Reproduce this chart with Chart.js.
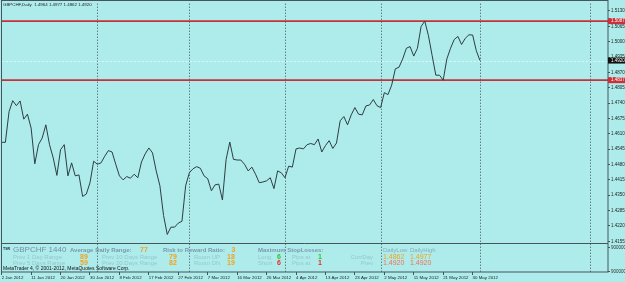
<!DOCTYPE html>
<html>
<head>
<meta charset="utf-8">
<script src="https://cdn.jsdelivr.net/npm/chart.js@4"></script>
<style>
  html, body { margin: 0; padding: 0; background: #adeceb; }
  canvas { display: block; }
</style>
</head>
<body>
<canvas id="chart" width="625" height="282"></canvas>
<script>
const symbol = 'GBPCHF';
const lastBar = [1.4964, 1.4977, 1.4862, 1.4920]; // open, high, low, close

// daily closes, 2 Jan 2012 .. 1 Jun 2012 (broker has Sunday bars)
const closes = [
  1.4574, 1.4574, 1.4704, 1.4750, 1.4729, 1.4749, 1.4672, 1.4693, 1.4634, 1.4483,
  1.4564, 1.4592, 1.4648, 1.4564, 1.4508, 1.4434, 1.4543, 1.4564, 1.4432, 1.4487,
  1.4432, 1.4436, 1.4345, 1.4355, 1.4403, 1.4494, 1.4481, 1.4487, 1.4515, 1.4539,
  1.4533, 1.4481, 1.4432, 1.4415, 1.4429, 1.4422, 1.4439, 1.4424, 1.4491, 1.4525,
  1.4550, 1.4529, 1.4453, 1.4390, 1.4264, 1.4184, 1.4215, 1.4215, 1.4232, 1.4240,
  1.4390, 1.4445, 1.4462, 1.4471, 1.4464, 1.4432, 1.4420, 1.4369, 1.4394, 1.4397,
  1.4330, 1.4502, 1.4575, 1.4502, 1.4499, 1.4499, 1.4481, 1.4453, 1.4469, 1.4439,
  1.4403, 1.4406, 1.4411, 1.4424, 1.4378, 1.4453, 1.4445, 1.4424, 1.4473, 1.4469,
  1.4546, 1.4550, 1.4546, 1.4564, 1.4569, 1.4564, 1.4588, 1.4533, 1.4560, 1.4581,
  1.4548, 1.4571, 1.4665, 1.4683, 1.4648, 1.4690, 1.4721, 1.4693, 1.4690, 1.4728,
  1.4732, 1.4755, 1.4729, 1.4721, 1.4784, 1.4776, 1.4816, 1.4885, 1.4892, 1.4927,
  1.4972, 1.4979, 1.4939, 1.4972, 1.5064, 1.5087, 1.5025, 1.4941, 1.4858, 1.4858,
  1.4837, 1.4927, 1.4972, 1.5009, 1.5022, 1.4988, 1.5014, 1.5029, 1.5028, 1.4962,
  1.4920
];

// one date label every 8 bars
const dateTicks = [
  '2 Jan 2012', '11 Jan 2012', '20 Jan 2012', '30 Jan 2012', '8 Feb 2012', '17 Feb 2012',
  '27 Feb 2012', '7 Mar 2012', '16 Mar 2012', '26 Mar 2012', '4 Apr 2012', '13 Apr 2012',
  '23 Apr 2012', '2 May 2012', '11 May 2012', '21 May 2012', '30 May 2012'
];
const priceTicks = [
  1.5130, 1.5065, 1.5000, 1.4935, 1.4870, 1.4805, 1.4740, 1.4675,
  1.4610, 1.4545, 1.4480, 1.4415, 1.4350, 1.4285, 1.4220, 1.4155
];
const monthStarts = [26, 51, 77, 103, 130, 160]; // bar index of 1 Feb .. 1 Jul
const levels = [1.5087, 1.4837];

// indicator panel values
const avgRange = 77;
const riskReward = 3;
const rangeLabels = ['Prev 1 Day Range', 'Prev 5 Days Range', 'Prev 10 Days Range', 'Prev 20 Days Range'];
const rangeValues = [89, 59, 79, 82];
const roomValues = [18, 19];
const stopLosses = [6, 6];
const pipsAt = [1, 1];
const dailyLow = [1.4862, 1.4920];
const dailyHigh = [1.4977, 1.4920];

const BG = '#adeceb';
const FRAME = '#46555c';
const FONT = '"Liberation Sans", Arial, sans-serif';
const SUB_TOP = 244;

function text(ctx, str, x, y, size, color, opts = {}) {
  ctx.font = `${opts.bold ? 'bold ' : ''}${size}px ${FONT}`;
  ctx.fillStyle = color;
  ctx.textAlign = opts.align || 'left';
  ctx.textBaseline = 'middle';
  ctx.fillText(str, x, y);
}

const mtPlugin = {
  id: 'mt',
  beforeDraw(chart) {
    const ctx = chart.ctx;
    ctx.save();
    ctx.fillStyle = BG;
    ctx.fillRect(0, 0, chart.width, chart.height);
    ctx.restore();
  },
  beforeDatasetsDraw(chart) {
    const { ctx, chartArea: a, scales: { x, y } } = chart;
    ctx.save();
    // month separators
    ctx.strokeStyle = '#3e4c52';
    ctx.lineWidth = 1;
    ctx.setLineDash([1, 2]);
    monthStarts.forEach(m => {
      const px = Math.round(x.getPixelForValue(m)) + 0.5;
      ctx.beginPath();
      ctx.moveTo(px, a.top);
      ctx.lineTo(px, a.bottom);
      ctx.stroke();
    });
    // bid line
    ctx.strokeStyle = 'rgba(235,250,250,0.8)';
    ctx.setLineDash([2, 2]);
    const by = Math.round(y.getPixelForValue(lastBar[3])) + 0.5;
    ctx.beginPath();
    ctx.moveTo(a.left, by);
    ctx.lineTo(a.right, by);
    ctx.stroke();
    // high / low levels
    ctx.setLineDash([]);
    ctx.strokeStyle = '#c8303a';
    ctx.lineWidth = 1.6;
    levels.forEach(v => {
      const py = y.getPixelForValue(v);
      ctx.beginPath();
      ctx.moveTo(a.left, py);
      ctx.lineTo(a.right, py);
      ctx.stroke();
    });
    ctx.restore();
  },
  afterDraw(chart) {
    const { ctx, chartArea: a, scales: { y } } = chart;
    ctx.save();

    // frame and indicator sub-window
    ctx.strokeStyle = FRAME;
    ctx.lineWidth = 1;
    ctx.strokeRect(1.5, 0.5, a.right - 1.5, a.bottom - 0.5);
    ctx.beginPath();
    ctx.moveTo(1.5, SUB_TOP - 0.5);
    ctx.lineTo(a.right, SUB_TOP - 0.5);
    ctx.stroke();

    // sub-window scale
    [SUB_TOP + 3, a.bottom - 1].forEach(py => {
      ctx.beginPath();
      ctx.moveTo(a.right, py + 0.5);
      ctx.lineTo(a.right + 2, py + 0.5);
      ctx.stroke();
      text(ctx, '9000000', a.right + 3, py + 0.5, 4.5, '#333');
    });

    // price boxes on the axis
    const box = (v, fill) => {
      const py = y.getPixelForValue(v);
      ctx.fillStyle = fill;
      ctx.fillRect(a.right, py - 3, chart.width - a.right, 6);
      text(ctx, v.toFixed(4), a.right + 3, py, 4.5, '#fff');
    };
    levels.forEach(v => box(v, '#c8303a'));
    box(lastBar[3], '#111');

    // title
    text(ctx, `${symbol},Daily  ${lastBar.map(v => v.toFixed(4)).join(' ')}`, 3, 5, 4.4, '#222');

    // indicator panel
    const steel = '#7b98ae';
    const faint = '#98c6cd';
    const orange = '#f5a21b';
    const green = '#2fc62f';
    const red = '#f02828';
    const tomato = '#f0705a';
    const r1 = 250, r2 = 257, r3 = 263.5;

    text(ctx, 'TSR', 3, 248.5, 3.6, '#1b2a44', { bold: true });
    text(ctx, `${symbol} 1440`, 13, r1, 8, '#7890a8');
    text(ctx, 'Average Daily Range:', 70, r1, 6, steel, { bold: true });
    text(ctx, String(avgRange), 140, r1, 7, orange, { bold: true });
    text(ctx, 'Risk to Reward Ratio:', 163, r1, 6, steel, { bold: true });
    text(ctx, String(riskReward), 231.5, r1, 7, orange, { bold: true });
    text(ctx, 'Maximum StopLosses:', 258, r1, 6, steel, { bold: true });
    text(ctx, 'DailyLow', 383, r1, 6, '#8aabbd');
    text(ctx, 'DailyHigh', 410, r1, 6, '#8aabbd');

    [r2, r3].forEach((ry, k) => {
      text(ctx, rangeLabels[k], 13, ry, 6, faint);
      text(ctx, String(rangeValues[k]), 80, ry, 7, orange, { bold: true });
      text(ctx, rangeLabels[k + 2], 102, ry, 6, faint);
      text(ctx, String(rangeValues[k + 2]), 169, ry, 7, orange, { bold: true });
      text(ctx, k ? 'Room DN' : 'Room UP', 194, ry, 6, faint);
      text(ctx, String(roomValues[k]), 227, ry, 7, orange, { bold: true });
      text(ctx, k ? 'Short' : 'Long', 258, ry, 6, faint);
      text(ctx, String(stopLosses[k]), 277, ry, 7, k ? red : green, { bold: true });
      text(ctx, 'Pips at', 292, ry, 6, faint);
      text(ctx, String(pipsAt[k]), 318, ry, 7, k ? red : green, { bold: true });
      text(ctx, k ? 'Prev' : 'CurrDay', 373, ry, 6, faint, { align: 'right' });
      text(ctx, dailyLow[k].toFixed(4), 383, ry, 7, k ? tomato : orange);
      text(ctx, dailyHigh[k].toFixed(4), 410, ry, 7, k ? tomato : orange);
    });

    text(ctx, 'MetaTrader 4, \u00a9 2001-2012, MetaQuotes Software Corp.', 3, 269, 5, '#111');
    ctx.restore();
  }
};

new Chart(document.getElementById('chart'), {
  type: 'line',
  data: {
    datasets: [{
      data: closes.map((c, i) => ({ x: i, y: c })),
      borderColor: '#2f3d42',
      borderWidth: 1,
      pointRadius: 0,
      tension: 0
    }]
  },
  options: {
    responsive: false,
    animation: false,
    devicePixelRatio: 1,
    layout: { padding: { left: 1.7, top: 1, right: 0, bottom: 0 } },
    plugins: { legend: { display: false }, tooltip: { enabled: false } },
    scales: {
      x: {
        type: 'linear',
        min: 0,
        max: 164.8,
        afterFit: s => { s.height = 10; },
        afterBuildTicks: s => { s.ticks = dateTicks.map((_, k) => ({ value: k * 8 })); },
        ticks: {
          autoSkip: false,
          maxRotation: 0,
          minRotation: 0,
          align: 'start',
          padding: 0,
          color: '#222',
          font: { size: 4.4, family: FONT },
          callback: v => dateTicks[v / 8]
        },
        grid: { drawOnChartArea: false, tickLength: 3, color: FRAME },
        border: { display: false }
      },
      y: {
        position: 'right',
        min: 1.40251,
        max: 1.51606,
        afterFit: s => { s.width = 17; },
        afterBuildTicks: s => { s.ticks = priceTicks.map(v => ({ value: v })); },
        ticks: {
          autoSkip: false,
          padding: 1,
          color: '#222',
          font: { size: 4.5, family: FONT },
          callback: v => v.toFixed(4)
        },
        grid: { drawOnChartArea: false, tickLength: 2, color: FRAME },
        border: { display: false }
      }
    }
  },
  plugins: [mtPlugin]
});
</script>
</body>
</html>
